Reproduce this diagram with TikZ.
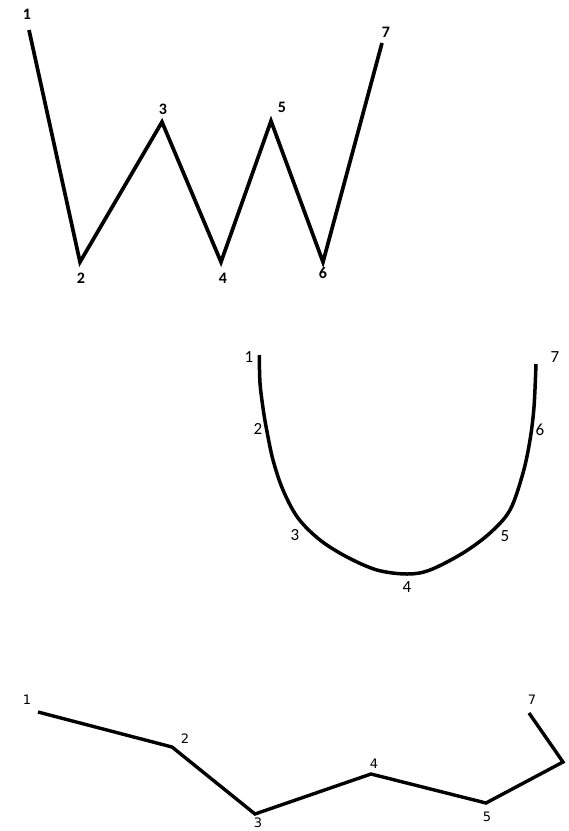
\documentclass[tikz,border=0pt]{standalone}
\usepackage{fontspec}
\newfontfamily\calib{Carlito}
\newfontfamily\dvs{DejaVu Sans}
\begin{document}
\begin{tikzpicture}[x=1pt,y=-1pt,
  topline/.style={line width=3.7pt},
  midline/.style={line width=3.5pt},
  botline/.style={line width=3.4pt},
  toplbl/.style={font=\calib\bfseries\fontsize{16}{16}\selectfont, inner sep=0pt},
  midlbl/.style={font=\calib\fontsize{17}{17}\selectfont, inner sep=0pt},
  botlbl/.style={font=\dvs\fontsize{13}{13}\selectfont, inner sep=0pt}]
\useasboundingbox[fill=white] (0,0) rectangle (569,831);
% top figure
\coordinate (t1) at (29,30);
\coordinate (t2) at (80,262);
\coordinate (t3) at (162,122);
\coordinate (t4) at (221,262);
\coordinate (t5) at (271,121);
\coordinate (t6) at (323,262);
\coordinate (t7) at (382,43);
\draw[topline] (t1) -- (t2) -- (t3) -- (t4) -- (t5) -- (t6) -- (t7);
\node[toplbl] (lt1) at (27,14) {1};
\node[toplbl] (lt2) at (81,278) {2};
\node[toplbl] (lt3) at (163,109) {3};
\node[toplbl] (lt4) at (223,278) {4};
\node[toplbl] (lt5) at (282,107) {5};
\node[toplbl] (lt6) at (323,273) {6};
\node[toplbl] (lt7) at (386,32) {7};
% middle curve
\draw[midline] plot[smooth, tension=0.55] coordinates {
 (259.3,355) (260,383) (263.3,410) (266.7,430) (273,460) (283,490) (298,518)
 (320,540) (347,557) (377,570) (407,574) (430,570) (463,553) (490,533)
 (510,510) (523,473) (530,440) (534,407) (536,364)};
\node[midlbl] (lm1) at (249,357) {1};
\node[midlbl] (lm2) at (258,429) {2};
\node[midlbl] (lm3) at (295,535) {3};
\node[midlbl] (lm4) at (407,587) {4};
\node[midlbl] (lm5) at (505,536) {5};
\node[midlbl] (lm6) at (540,430) {6};
\node[midlbl] (lm7) at (555,357) {7};
% bottom chain
\coordinate (b1) at (38,712);
\coordinate (b2) at (172,747);
\coordinate (b3) at (255,814);
\coordinate (b4) at (371,774);
\coordinate (b5) at (486,803);
\coordinate (b6) at (563,762);
\coordinate (b7) at (529,713);
\draw[botline] (b1) -- (b2) -- (b3) -- (b4) -- (b5) -- (b6) -- (b7);
\node[botlbl] (lb1) at (27,700) {1};
\node[botlbl] (lb2) at (185,739) {2};
\node[botlbl] (lb3) at (258,823) {3};
\node[botlbl] (lb4) at (374,764) {4};
\node[botlbl] (lb5) at (487,817) {5};
\node[botlbl] (lb7) at (532,700) {7};
\end{tikzpicture}
\end{document}
